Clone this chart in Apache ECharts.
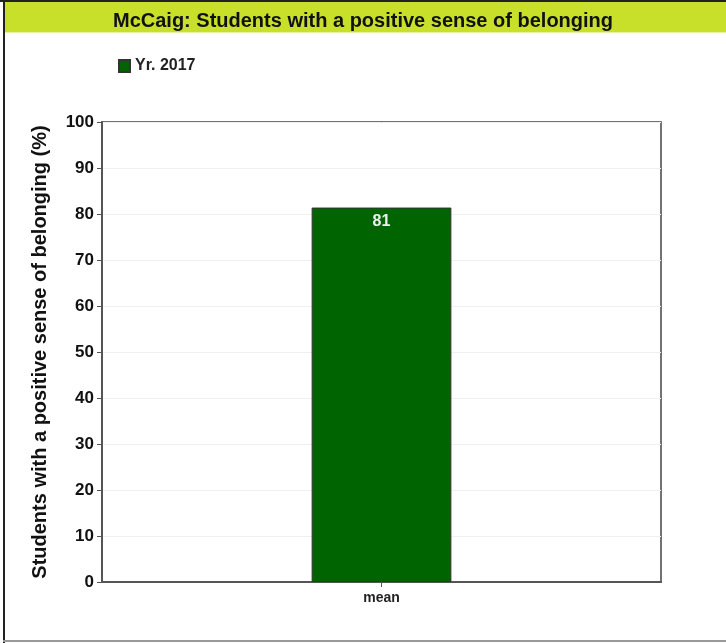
<!DOCTYPE html>
<html><head><meta charset="utf-8">
<script src="https://cdn.jsdelivr.net/npm/echarts@6/dist/echarts.min.js"></script>
<style>html,body{margin:0;padding:0;background:#fff}#c{width:726px;height:643px}</style>
</head><body><div id="c"></div>
<script>
const titleText = 'McCaig: Students with a positive sense of belonging';
const categories = ['mean'];
const seriesName = 'Yr. 2017';
const values = [81.4];
const yTicks = [0, 10, 20, 30, 40, 50, 60, 70, 80, 90, 100];
const yAxisTitle = 'Students with a positive sense of belonging (%)';

const FONT = '"Liberation Sans", Arial, Helvetica, sans-serif';
const chart = echarts.init(document.getElementById('c'));
chart.setOption({
  animation: false,
  textStyle: { fontFamily: FONT },
  graphic: [
    { type: 'rect', shape: { x: 0, y: 0, width: 726, height: 2 }, style: { fill: '#222' }, z: 10 },
    { type: 'rect', shape: { x: 4, y: 2, width: 722, height: 30 }, style: { fill: '#c9e02b' } },
    { type: 'rect', shape: { x: 4, y: 32, width: 722, height: 1 }, style: { fill: '#e8f3a0' } },
    { type: 'rect', shape: { x: 3, y: 0, width: 2, height: 643 }, style: { fill: '#222' }, z: 10 },
    { type: 'rect', shape: { x: 3, y: 640, width: 723, height: 2 }, style: { fill: '#999' }, z: 10 }
  ],
  title: {
    text: titleText, left: 'center', top: 6,
    textStyle: { fontFamily: FONT, fontSize: 20, fontWeight: 'bold', color: '#111' }
  },
  legend: {
    data: [seriesName], left: 113, top: 53, itemWidth: 11, itemHeight: 12, itemGap: 6,
    icon: 'rect',
    textStyle: { fontFamily: FONT, fontSize: 16, fontWeight: 'bold', color: '#222' }
  },
  grid: { left: 102, right: 65, top: 122, bottom: 61, show: true, borderColor: '#444', borderWidth: 1.5, backgroundColor: 'transparent' },
  xAxis: {
    type: 'category', data: categories,
    axisLine: { lineStyle: { color: '#555', width: 2 } },
    axisTick: { show: true, alignWithLabel: true, length: 5, lineStyle: { color: '#555' } },
    axisLabel: { fontFamily: FONT, fontSize: 14, fontWeight: 'bold', color: '#222', margin: 9 }
  },
  yAxis: {
    type: 'value', min: yTicks[0], max: yTicks[yTicks.length - 1], interval: 10,
    name: yAxisTitle, nameLocation: 'middle', nameGap: 52,
    nameTextStyle: { fontFamily: FONT, fontSize: 20, fontWeight: 'bold', color: '#111' },
    axisLine: { show: true, lineStyle: { color: '#555', width: 2 } },
    axisTick: { show: true, length: 5, lineStyle: { color: '#555' } },
    axisLabel: { fontFamily: FONT, fontSize: 17, fontWeight: 'bold', color: '#111', margin: 8 },
    splitLine: { show: true, lineStyle: { color: '#f0f0f0', width: 1 } }
  },
  series: [{
    name: seriesName, type: 'bar', data: values, barWidth: '25%',
    itemStyle: { color: '#006400', borderColor: '#333', borderWidth: 1 },
    label: {
      show: true, position: 'insideTop', distance: 6,
      formatter: p => Math.round(p.value),
      fontFamily: FONT, fontSize: 16, fontWeight: 'bold', color: '#f0f0f0'
    }
  }]
});
</script></body></html>
